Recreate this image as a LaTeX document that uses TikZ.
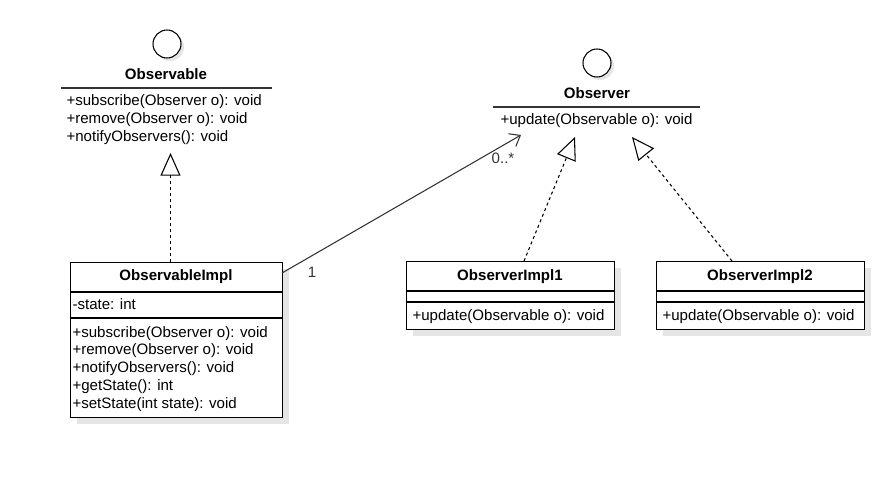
\documentclass[tikz,border=0pt]{standalone}
\usepackage{fontspec}
\setmainfont{Liberation Sans}
\usetikzlibrary{arrows.meta,calc}
\begin{document}
\begin{tikzpicture}[x=0.75pt,y=-0.75pt,
  font=\fontsize{11.3}{13.5}\selectfont,
  line width=0.8pt,
  shadowc/.style={fill=black!10,draw=none},
  boxc/.style={draw=black,fill=white,inner sep=0pt,anchor=north west},
  ifcircle/.style={circle,draw=black,fill=white,inner sep=0pt,minimum size=21pt},
  ifshadow/.style={circle,fill=black!10,inner sep=0pt,minimum size=21pt},
  title/.style={font=\fontsize{11.3}{13.5}\selectfont\bfseries,inner sep=0pt,yshift=-1pt},
  member/.style={anchor=west,inner sep=0pt,yshift=-1.2pt},
  realize/.style={dash pattern=on 2.25pt off 2.25pt,-{Triangle[open,length=17pt,width=15pt,line width=0.8pt]}},
  assoc/.style={-{Straight Barb[length=7pt,width=11pt,line width=0.8pt]}},
  mult/.style={inner sep=0pt,text=black!80},
  hline/.style={draw=black!80}]
\useasboundingbox (0,0) rectangle (879,485);

% ---------- Observable (interface) ----------
\node[ifshadow] at (170,47) {};
\node[ifcircle] (obsc) at (167,44) {};
\node[title] (obst) at (166,73) {Observable};
\coordinate (obsL) at (61,88);
\coordinate (obsR) at (272,88);
\draw[hline] (obsL) -- (obsR);
\node[member] (obsm1) at (66,100) {+subscribe(Observer o): void};
\node[member] (obsm2) at (66,118) {+remove(Observer o): void};
\node[member] (obsm3) at (66,136) {+notifyObservers(): void};
\coordinate (obsTip) at (170.5,153);

% ---------- Observer (interface) ----------
\node[ifshadow] at (600,66) {};
\node[ifcircle] (obrc) at (597,63) {};
\node[title] (obrt) at (597,92) {Observer};
\coordinate (obrL) at (493,107);
\coordinate (obrR) at (700,107);
\draw[hline] (obrL) -- (obrR);
\node[member] (obrm1) at (500,119) {+update(Observable o): void};
\coordinate (obrTip1) at (575,137);
\coordinate (obrTip2) at (632,137);
\coordinate (obrAssoc) at (521,135);

% ---------- ObservableImpl ----------
\fill[shadowc] (77,269) rectangle (289,424);
\node[boxc,minimum width=159pt,minimum height=116.25pt] (oimpl) at (70,262) {};
\draw (70,292) -- (282,292);
\draw (70,318) -- (282,318);
\node[title] (oimplt) at (176,275) {ObservableImpl};
\node[member] (oimpla) at (72,303) {-state: int};
\node[member] (oimplm1) at (72,332) {+subscribe(Observer o): void};
\node[member] (oimplm2) at (72,349) {+remove(Observer o): void};
\node[member] (oimplm3) at (72,367) {+notifyObservers(): void};
\node[member] (oimplm4) at (72,385) {+getState(): int};
\node[member] (oimplm5) at (72,403) {+setState(int state): void};
\coordinate (oimplTop) at (170.5,262);
\coordinate (oimplAssoc) at (282,273);

% ---------- ObserverImpl1 ----------
\fill[shadowc] (413,268) rectangle (621,336);
\node[boxc,minimum width=156pt,minimum height=51pt] (r1) at (406,261) {};
\draw (406,291) -- (614,291);
\draw (406,302) -- (614,302);
\node[title] (r1t) at (510,275) {ObserverImpl1};
\node[member] (r1m) at (412,315) {+update(Observable o): void};
\coordinate (r1Top) at (524,261);

% ---------- ObserverImpl2 ----------
\fill[shadowc] (663,268) rectangle (871,336);
\node[boxc,minimum width=156pt,minimum height=51pt] (r2) at (656,261) {};
\draw (656,291) -- (864,291);
\draw (656,302) -- (864,302);
\node[title] (r2t) at (760,275) {ObserverImpl2};
\node[member] (r2m) at (662,315) {+update(Observable o): void};
\coordinate (r2Top) at (732,261);

% ---------- connectors ----------
\draw[realize] (oimplTop) -- (obsTip);
\draw[realize] (r1Top) -- (obrTip1);
\draw[realize] (r2Top) -- (obrTip2);
\draw[assoc,draw=black!80] (oimplAssoc) -- (obrAssoc);
\node[mult] (m1) at (312,272) {1};
\node[mult] (m2) at (503,158) {0..*};
\end{tikzpicture}
\end{document}
